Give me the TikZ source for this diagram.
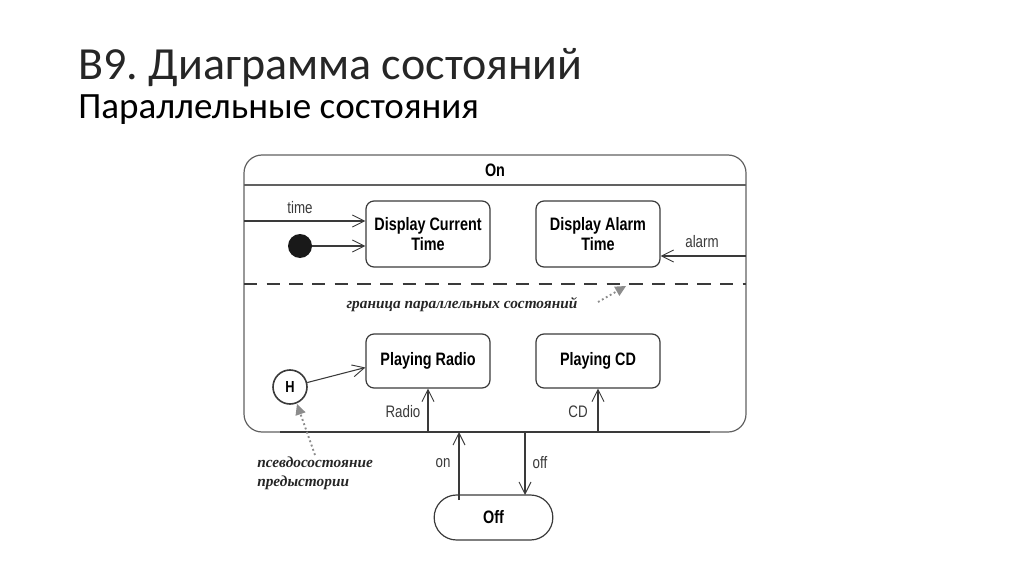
\documentclass[tikz,border=0pt]{standalone}
\usepackage{fontspec}
\setmainfont{Carlito}
\newfontfamily\cond[FakeStretch=0.8]{Liberation Sans}
\newfontfamily\hand{Liberation Serif}
\usetikzlibrary{arrows.meta,calc}
\definecolor{ln}{HTML}{3A3A3A}
\definecolor{gr}{HTML}{8C8C8C}
\frenchspacing
\begin{document}
\begin{tikzpicture}[x=0.75pt,y=-0.75pt,
  statebox/.style={draw=ln,line width=0.9pt,rounded corners=6pt,minimum width=93pt,align=center,font=\cond\bfseries\fontsize{13.5}{15}\selectfont,inner sep=0pt},
  lbl/.style={font=\cond\fontsize{12.5}{14}\selectfont,text=ln,inner sep=0pt},
  arr/.style={draw=ln,line width=0.8pt,-{Straight Barb[length=9pt,width=9pt,line width=0.7pt]}},
  note/.style={font=\hand\bfseries\itshape\fontsize{11.5}{14}\selectfont,text=black!85,inner sep=0pt,align=left},
  dotarr/.style={draw=gr,line width=1.4pt,dotted,-{Triangle[length=8pt,width=8pt,fill=gr,line width=0pt]}}
]
\useasboundingbox (0,0) rectangle (1024,574);
% titles
\node[anchor=base west,inner sep=0pt,font=\fontsize{34.5}{38}\selectfont,text=black!85] (title) at (78,80) {В9. Диаграмма состояний};
\node[anchor=base west,inner sep=0pt,font=\fontsize{27.8}{32}\selectfont] (sub) at (78,119) {Параллельные состояния};
% On composite state
\node[draw=ln!80,line width=0.9pt,rounded corners=13.5pt,minimum width=376.5pt,minimum height=207.75pt,inner sep=0pt] (on) at (495,293.5) {};
\draw[ln!80,line width=0.9pt] (244,185) coordinate (hl) -- (746,185) coordinate (hr);
\node[font=\cond\bfseries\fontsize{13.5}{15}\selectfont,inner sep=0pt] (ontitle) at (495,170) {On};
\draw[ln,line width=2pt] (280,432) coordinate (bl) -- (710,432) coordinate (br);
% dashed concurrency boundary
\draw[ln,line width=0.8pt,dash pattern=on 10pt off 7pt] (244,284) coordinate (dl) -- (746,284) coordinate (dr);
% states
\node[statebox,minimum height=49.5pt] (dct) at (428,234) {Display Current\\Time};
\node[statebox,minimum height=49.5pt] (dat) at (598,234) {Display Alarm\\Time};
\node[statebox,minimum height=40.5pt] (radio) at (428,361) {Playing Radio};
\node[statebox,minimum height=40.5pt] (cd) at (598,361) {Playing CD};
\node[draw=ln,line width=0.9pt,rounded corners=16.8pt,minimum width=89pt,minimum height=33.75pt,font=\cond\bfseries\fontsize{13.5}{15}\selectfont,inner sep=0pt] (off) at (493.5,517.5) {Off};
\node[draw=ln,circle,line width=1.2pt,minimum size=25.5pt,inner sep=0pt,font=\cond\bfseries\fontsize{12}{13}\selectfont] (hist) at (290,387) {H};
\node[circle,fill=black!90,minimum size=18pt,inner sep=0pt] (init) at (300,246) {};
% transitions
\coordinate (tstart) at (244,221);
\draw[arr] (tstart) -- (dct.west |- tstart);
\node[lbl] (tlbl) at (300,208) {time};
\draw[arr] (init) -- (dct.west |- init);
\coordinate (astart) at (746,256);
\draw[arr] (astart) -- (dat.east |- astart);
\node[lbl] (albl) at (702,242) {alarm};
\draw[arr] (hist) -- ($(radio.west)+(0,6.5)$);
\draw[arr] (radio.south |- on.south) -- (radio.south);
\node[lbl] (rlbl) at (403,412) {Radio};
\draw[arr] (cd.south |- on.south) -- (cd.south);
\node[lbl] (cdlbl) at (578,412) {CD};
\draw[arr] (459,500) coordinate (onfrom) -- (459,432) coordinate (onto);
\node[lbl] (onlbl) at (443,463) {on};
\draw[arr] (525,432) coordinate (offfrom) -- (525,495) coordinate (offto);
\node[lbl] (offlbl) at (540,463) {off};
% notes
\node[note] (n1) at (462,305) {граница параллельных состояний};
\coordinate (n1a) at (598,302);
\coordinate (n1b) at (626,286);
\draw[dotarr] (n1a) -- (n1b);
\node[note,anchor=north west] (n2) at (257,457) {псевдосостояние\\предыстории};
\coordinate (n2a) at (315,455);
\coordinate (n2b) at (297,404);
\draw[dotarr] (n2a) -- (n2b);
\end{tikzpicture}
\end{document}
